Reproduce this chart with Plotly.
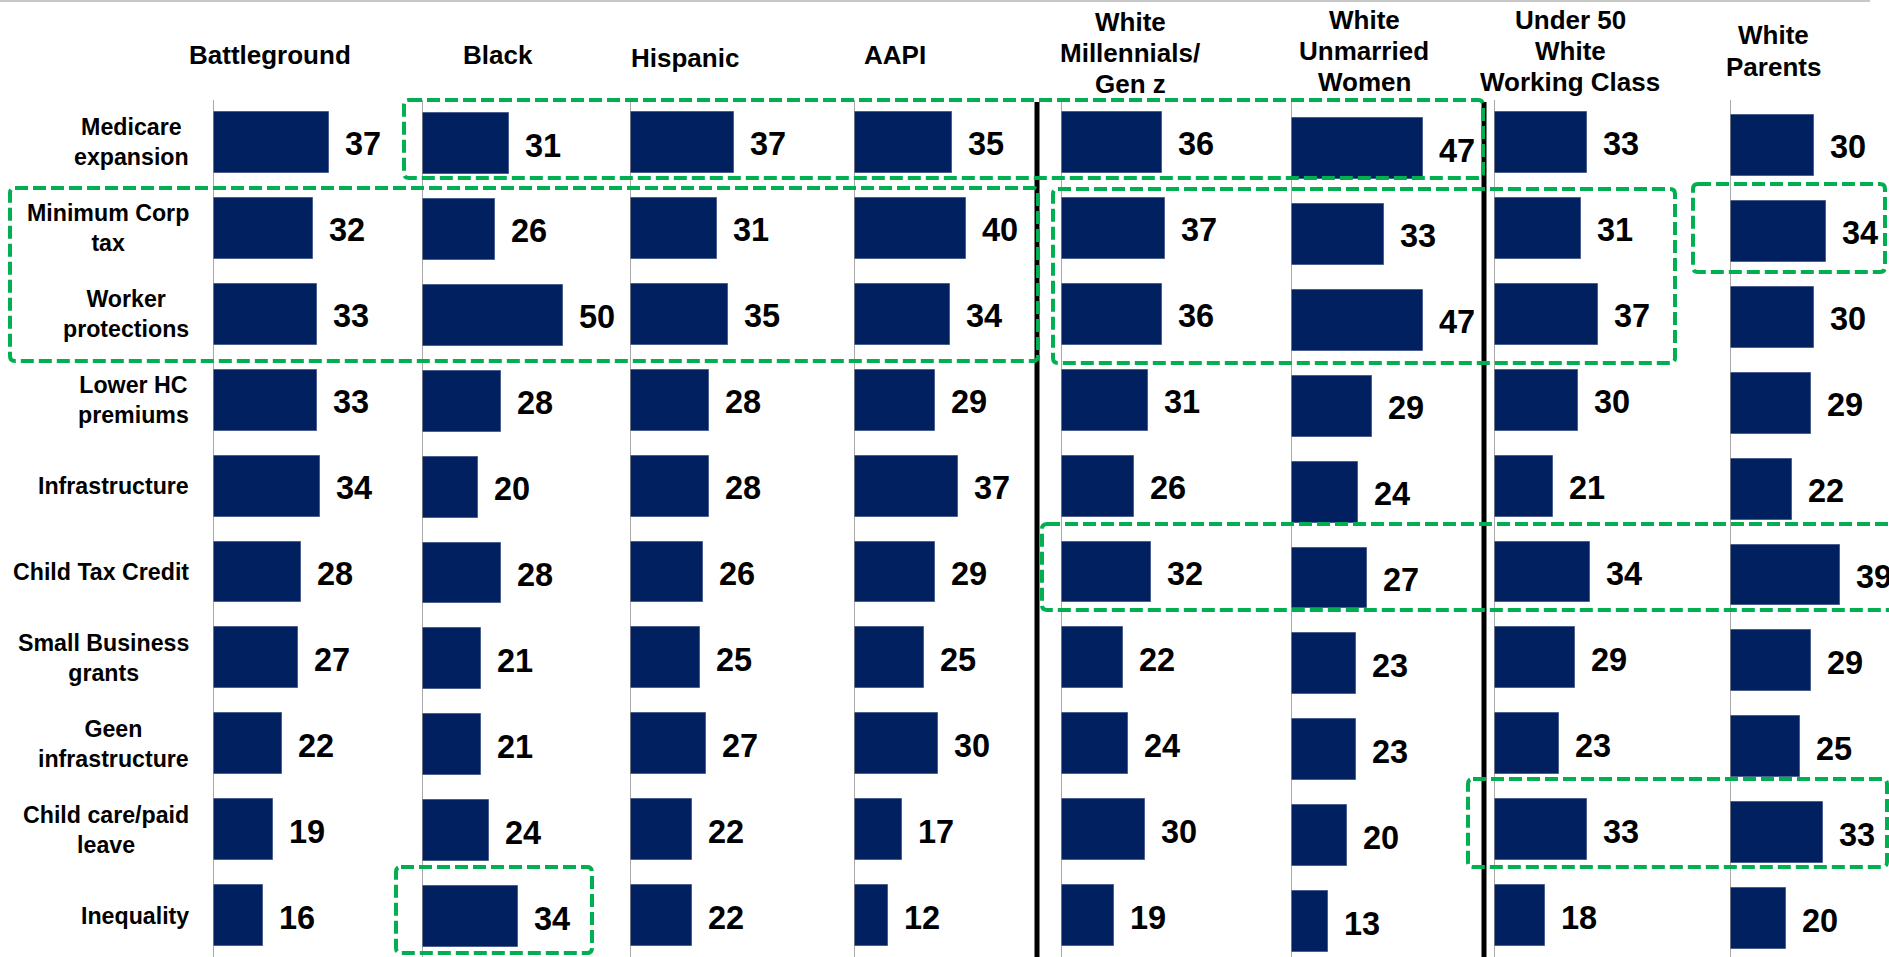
import plotly.graph_objects as go

W, H = 1889, 957

# ---------------- data ----------------
issues = ["Medicare<br>expansion", "Minimum Corp<br>tax", "Worker<br>protections",
          "Lower HC<br>premiums", "Infrastructure", "Child Tax Credit",
          "Small Business<br>grants", "Geen<br>infrastructure",
          "Child care/paid<br>leave", "Inequality"]

groups = [["Battleground"], ["Black"], ["Hispanic"], ["AAPI"],
          ["White", "Millennials/", "Gen z"], ["White", "Unmarried", "Women"],
          ["Under 50", "White", "Working Class"], ["White", "Parents"]]

battleground = [37, 32, 33, 33, 34, 28, 27, 22, 19, 16]
black        = [31, 26, 50, 28, 20, 28, 21, 21, 24, 34]
hispanic     = [37, 31, 35, 28, 28, 26, 25, 27, 22, 22]
aapi         = [35, 40, 34, 29, 37, 29, 25, 30, 17, 12]
white_mill   = [36, 37, 36, 31, 26, 32, 22, 24, 30, 19]
white_unmar  = [47, 33, 47, 29, 24, 27, 23, 23, 20, 13]
under50_wwc  = [33, 31, 37, 30, 21, 34, 29, 23, 33, 18]
white_parent = [30, 34, 30, 29, 22, 39, 29, 25, 33, 20]

series = [battleground, black, hispanic, aapi, white_mill, white_unmar, under50_wwc, white_parent]

# ---------------- layout constants (page pixels) ----------------
axis_px = [213, 422, 630, 854, 1061, 1291, 1494, 1730]
px_per_unit = [3.14, 2.81, 2.81, 2.81, 2.81, 2.81, 2.81, 2.81]
panel_yoff = [0, 1, 0, 0, 0, 6, 0, 3]
header_x = [270, 498, 685, 895, 1130, 1364, 1570, 1773]
header_y = [55, 55, 58, 55, 53, 51, 51, 51]
header_lh = 31

row0_px, row_step = 142.5, 85.9
plot_top = 100

NAVY = "#002060"
GREEN = "#00B050"
FONT = "Liberation Sans, Arial, sans-serif"


def px(x):
    return x / W


def py(y):
    return 1 - y / H


fig = go.Figure()
rows = list(range(len(issues)))

annotations = []
shapes = []
layout_axes = {}

# y axes, one per distinct vertical offset
yaxis_of = {}
for off in sorted(set(panel_yoff)):
    k = len(yaxis_of)
    name = "y" if k == 0 else "y%d" % (k + 1)
    yaxis_of[off] = name
    y_top = (plot_top - row0_px) / row_step
    y_bot = (H - row0_px - off) / row_step
    key = "yaxis" if k == 0 else "yaxis%d" % (k + 1)
    layout_axes[key] = dict(domain=[0, py(plot_top + off)], range=[y_bot, y_top],
                            visible=False, fixedrange=True)

for i, vals in enumerate(series):
    n = "" if i == 0 else str(i + 1)
    yname = yaxis_of[panel_yoff[i]]
    span = min(175, W - axis_px[i])
    fig.add_trace(go.Bar(
        x=vals, y=rows, orientation="h",
        marker=dict(color=NAVY, line=dict(color="#4A5F8F", width=1)),
        width=0.71, xaxis="x" + n, yaxis=yname, showlegend=False,
        hoverinfo="skip"))
    layout_axes["xaxis" + n] = dict(domain=[px(axis_px[i]), px(axis_px[i] + span)],
                                    range=[0, span / px_per_unit[i]],
                                    visible=False, fixedrange=True, anchor=yname)
    # value labels
    for r, v in zip(rows, vals):
        annotations.append(dict(
            x=v, y=r, xref="x" + n, yref=yname, text="<b>%d</b>" % v,
            showarrow=False, xanchor="left", yanchor="middle", xshift=14, yshift=-2,
            font=dict(family=FONT, size=32.5, color="black")))
    # panel axis line
    shapes.append(dict(type="line", xref="x" + n, yref="paper",
                       x0=0, x1=0, y0=0, y1=py(plot_top),
                       line=dict(color="#8C8C8C", width=1.5), layer="above"))
    # header (one annotation per line)
    lines = groups[i]
    for k, t in enumerate(lines):
        yy = header_y[i] + (k - (len(lines) - 1) / 2) * header_lh
        annotations.append(dict(
            x=px(header_x[i]), y=py(yy), xref="paper", yref="paper",
            text="<b>%s</b>" % t, showarrow=False, xanchor="center",
            yanchor="middle", align="center",
            font=dict(family=FONT, size=26, color="black")))

# row labels
for r, lab in zip(rows, issues):
    annotations.append(dict(
        x=px(191), y=r, xref="paper", yref="y", text="<b>%s</b>" % lab,
        showarrow=False, xanchor="right", yanchor="middle", align="center",
        font=dict(family=FONT, size=23.2, color="black")))

# thick separators
for xs in (1037, 1484):
    shapes.append(dict(type="line", xref="paper", yref="paper",
                       x0=px(xs), x1=px(xs), y0=0, y1=py(102),
                       line=dict(color="black", width=5), layer="above"))

# top rule
shapes.append(dict(type="line", xref="paper", yref="paper",
                   x0=0, x1=px(1870), y0=py(1), y1=py(1),
                   line=dict(color="#C8C8C8", width=2)))

# highlight boxes (page-pixel rectangles)
boxes = [(404, 100, 1483, 178), (10, 188, 1038, 361), (1053, 189, 1675, 363),
         (1693, 184, 1885, 272), (1042, 524, 1900, 610), (1468, 779, 1887, 867),
         (396, 867, 592, 953)]


def rrect(x0, y0, x1, y1, r=5):
    X0, X1 = px(x0), px(x1)
    Y0, Y1 = py(y0), py(y1)
    rx, ry = r / W, r / H
    return (f"M {X0+rx},{Y0} L {X1-rx},{Y0} Q {X1},{Y0} {X1},{Y0-ry} "
            f"L {X1},{Y1+ry} Q {X1},{Y1} {X1-rx},{Y1} L {X0+rx},{Y1} "
            f"Q {X0},{Y1} {X0},{Y1+ry} L {X0},{Y0-ry} Q {X0},{Y0} {X0+rx},{Y0} Z")


for b in boxes:
    shapes.append(dict(type="path", xref="paper", yref="paper", path=rrect(*b),
                       line=dict(color=GREEN, width=4, dash="13px,5px"),
                       fillcolor="rgba(0,0,0,0)", layer="above"))

fig.update_layout(
    width=W, height=H, margin=dict(l=0, r=0, t=0, b=0),
    paper_bgcolor="white", plot_bgcolor="rgba(0,0,0,0)",
    annotations=annotations, shapes=shapes, bargap=0, showlegend=False,
    **layout_axes,
)

fig.write_html(
    "out.html",
    config={"displayModeBar": False},
    post_script="document.body.style.margin='0';document.body.style.overflow='hidden';",
)
